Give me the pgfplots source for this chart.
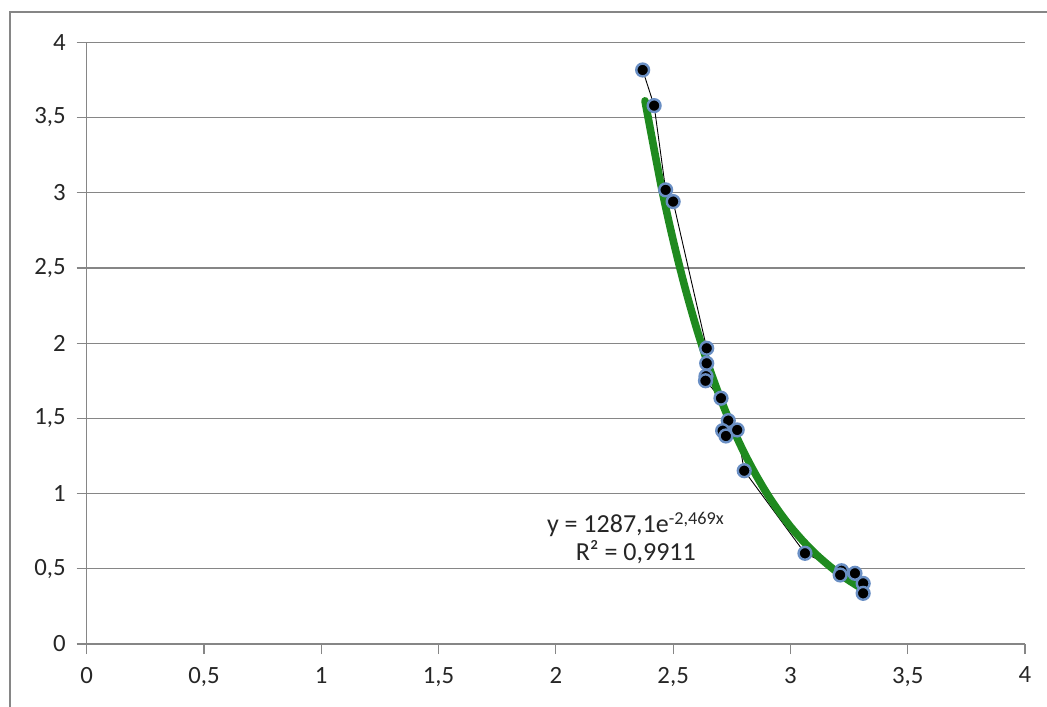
\documentclass[border=0pt]{standalone}
\usepackage{fontspec}
\setmainfont{Carlito}
\usepackage{pgfplots}
\pgfplotsset{compat=1.18}
\definecolor{gridc}{HTML}{868686}
\definecolor{trend}{HTML}{1F8A1F}
\definecolor{halo}{HTML}{6A8FC4}
\begin{document}
\begin{tikzpicture}[x=1pt,y=1pt]
\useasboundingbox (0,0) rectangle (523.5,353);
\draw[gridc, line width=1pt] (5,-2) -- (5,347) -- (526,347);
\begin{axis}[at={(43.35pt,31pt)}, anchor=south west, scale only axis,
  width=469.15pt, height=300.85pt,
  xmin=0, xmax=4, ymin=0, ymax=4,
  xtick={0,0.5,...,4}, ytick={0,0.5,...,4},
  axis x line=bottom, axis y line=left, axis line style={-, gridc, line width=0.6pt},
  tick align=outside, major tick length=5pt, tick style={gridc, line width=0.6pt},
  ymajorgrids, major grid style={gridc, line width=0.6pt},
  /pgf/number format/use comma, /pgf/number format/assume math mode=true,
  tick label style={font=\fontsize{12.4}{14}\selectfont, text=black!85},
  xticklabel style={yshift=-3pt}, yticklabel style={xshift=-2pt},
  clip=false]
  \addplot[black, line width=0.45pt, mark=*, mark size=3.2pt,
    mark options={fill=black, draw=halo, line width=1.2pt}] coordinates {
    (2.370,3.816) (2.419,3.579) (2.468,3.019) (2.500,2.941)
    (2.643,1.966) (2.643,1.866) (2.640,1.780) (2.638,1.750)
    (2.704,1.634) (2.735,1.485) (2.711,1.418) (2.725,1.383)
    (2.773,1.423) (2.803,1.152) (3.062,0.603) (3.218,0.487)
    (3.212,0.459) (3.275,0.470) (3.310,0.403) (3.310,0.337)};
  \addplot[trend, line width=3.8pt, line cap=round, smooth] coordinates {
    (2.38,3.611) (2.45,3.038) (2.50,2.685) (2.55,2.373) (2.60,2.098)
    (2.65,1.854) (2.70,1.639) (2.75,1.448) (2.80,1.280) (2.85,1.132)
    (2.90,1.000) (2.95,0.884) (3.00,0.781) (3.05,0.691) (3.10,0.610)
    (3.15,0.540) (3.20,0.477) (3.25,0.422) (3.31,0.363)};
  \node[align=center, font=\fontsize{13}{14}\selectfont, text=black!85]
    at (axis cs:2.341,0.705) {y = 1287,1e\textsuperscript{-2,469x}\\R² = 0,9911};
\end{axis}
\end{tikzpicture}
\end{document}
